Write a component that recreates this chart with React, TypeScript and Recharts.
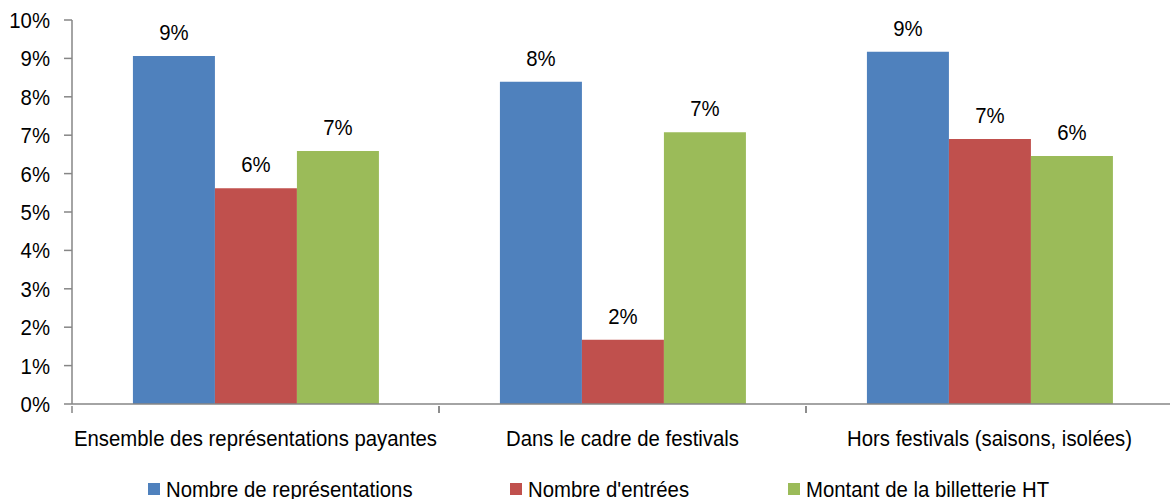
import React from 'react';
import { BarChart, Bar, XAxis, YAxis, LabelList, Legend } from 'recharts';

const categories = [
  'Ensemble des représentations payantes',
  'Dans le cadre de festivals',
  'Hors festivals (saisons, isolées)',
];
const representations = [9.06, 8.39, 9.17];
const entrees = [5.62, 1.67, 6.9];
const billetterie = [6.59, 7.08, 6.46];
const yTicks = [0, 1, 2, 3, 4, 5, 6, 7, 8, 9, 10];

const seriesNames = ['Nombre de représentations', "Nombre d'entrées", 'Montant de la billetterie HT'];
const colors = ['#4F81BD', '#C0504D', '#9BBB59'];

const data = categories.map((c, i) => ({
  name: c,
  rep: representations[i],
  ent: entrees[i],
  bil: billetterie[i],
}));

const FONT = '"Liberation Sans", Arial, sans-serif';
const FS = 22;
const SX = 0.925;
const AXIS = '#868686';
const W = 1170;
const H = 499;
const YW = 72;
const MR = -3;
const BAND = (W - YW - MR) / categories.length;

const NText = ({ x, y, anchor, children }: any) => (
  <text
    transform={`translate(${x},${y}) scale(${SX},1)`}
    x={0}
    y={0}
    textAnchor={anchor}
    fill="#000"
    fontSize={FS}
    fontFamily={FONT}
  >
    {children}
  </text>
);

const XTick = (props: any) => {
  const { x, y, payload } = props;
  return (
    <g>
      <line x1={x - BAND / 2} y1={y} x2={x - BAND / 2} y2={y + 7} stroke={AXIS} strokeWidth={1.5} />
      <line x1={x + BAND / 2} y1={y} x2={x + BAND / 2} y2={y + 7} stroke={AXIS} strokeWidth={1.5} />
      <NText x={x} y={y + 40} anchor="middle">{payload.value}</NText>
    </g>
  );
};

const YTick = (props: any) => {
  const { x, y, payload } = props;
  return <NText x={x} y={y + 8} anchor="end">{`${payload.value}%`}</NText>;
};

const BarLabel = (props: any) => {
  const { x, y, width, value } = props;
  return <NText x={x + width / 2} y={y - 16} anchor="middle">{`${Math.round(Number(value))}%`}</NText>;
};

const legendStarts = [148, 510, 788];

const LegendContent = () => (
  <svg width={W} height={30} style={{ display: 'block' }}>
    {seriesNames.map((n, i) => (
      <g key={n}>
        <rect x={legendStarts[i]} y={14} width={12} height={12} fill={colors[i]} />
        <NText x={legendStarts[i] + 18} y={28} anchor="start">{n}</NText>
      </g>
    ))}
  </svg>
);

export default function App() {
  return (
    <div style={{ position: 'absolute', left: 0, top: 0, background: '#fff' }}>
      <BarChart
        width={W}
        height={H}
        data={data}
        margin={{ top: 20, right: MR, bottom: 0, left: 0 }}
        barGap={0}
        barCategoryGap="16.6%"
      >
        <XAxis
          dataKey="name"
          height={65}
          tick={<XTick />}
          tickLine={false}
          tickSize={0}
          axisLine={{ stroke: AXIS, strokeWidth: 1.5 }}
          interval={0}
        />
        <YAxis
          width={YW}
          domain={[0, 10]}
          ticks={yTicks}
          interval={0}
          tick={<YTick />}
          tickSize={8}
          tickMargin={14}
          tickLine={{ stroke: AXIS, strokeWidth: 1.5 }}
          axisLine={{ stroke: AXIS, strokeWidth: 1.5 }}
        />
        <Legend verticalAlign="bottom" height={30} content={<LegendContent />} wrapperStyle={{ left: 0, width: W }} />
        <Bar dataKey="rep" name={seriesNames[0]} fill={colors[0]} isAnimationActive={false}>
          <LabelList dataKey="rep" content={<BarLabel />} />
        </Bar>
        <Bar dataKey="ent" name={seriesNames[1]} fill={colors[1]} isAnimationActive={false}>
          <LabelList dataKey="ent" content={<BarLabel />} />
        </Bar>
        <Bar dataKey="bil" name={seriesNames[2]} fill={colors[2]} isAnimationActive={false}>
          <LabelList dataKey="bil" content={<BarLabel />} />
        </Bar>
      </BarChart>
    </div>
  );
}
